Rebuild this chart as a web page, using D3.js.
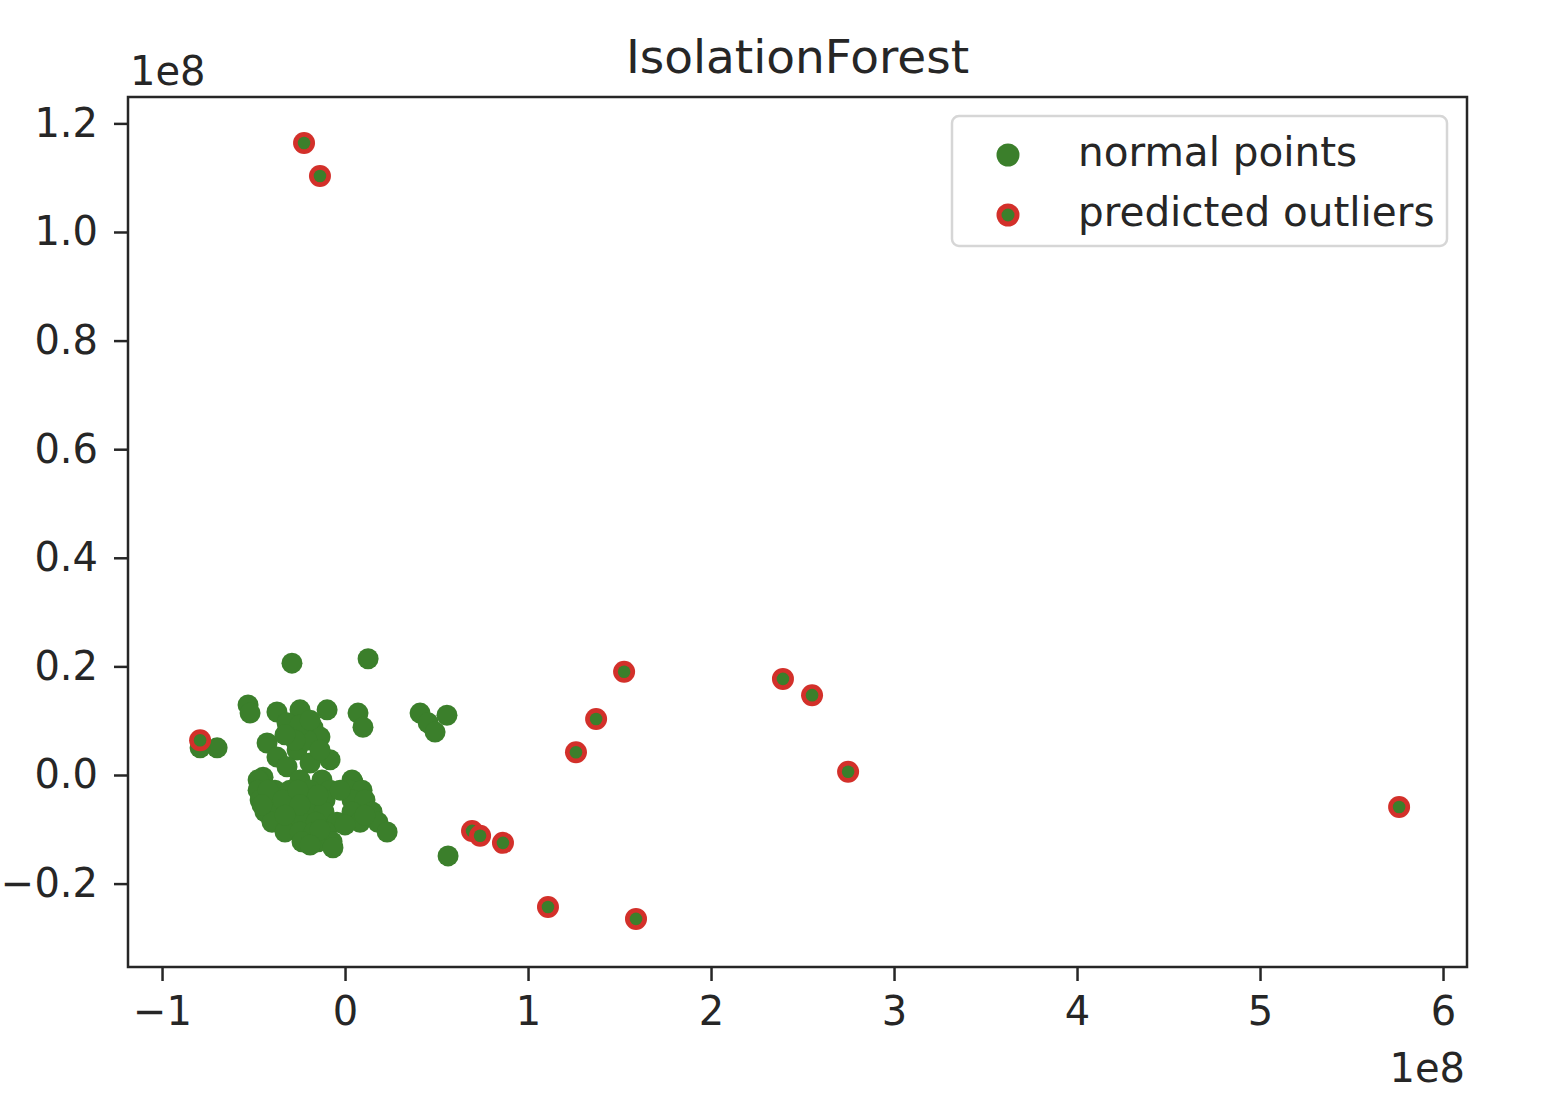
<!DOCTYPE html>
<html lang="en">
<head>
  <meta charset="UTF-8">
  <title>IsolationForest</title>
  <script src="https://d3js.org/d3.v7.min.js"></script>
  <style>
    body {
      margin: 0;
      background: #fff;
      font-family: "DejaVu Sans", sans-serif;
    }
  </style>
</head>
<body>
<script>
const width = 1544;
const height = 1112;

// values in units of 1e8
const normalX = [
  -0.290, 0.126, -0.530, -0.519, -0.372, -0.246, -0.098, 0.071, 0.098, 0.410,
  0.454, 0.492, 0.557, -0.317, -0.175, -0.137, -0.426, -0.372, -0.262, -0.208,
  -0.082, -0.317, -0.191, -0.448, -0.699, -0.792, 0.563, 0.044,
  -0.475, -0.246, -0.126, 0.038,
  -0.475, -0.383, -0.301, -0.191, -0.082, 0.027, 0.093,
  -0.464, -0.383, -0.301, -0.202, -0.109, 0.038, 0.109,
  -0.437, -0.355, -0.273, -0.191, -0.115, 0.038, 0.148,
  -0.399, -0.311, -0.235, -0.158, -0.044, 0.082, 0.180,
  -0.328, -0.246, -0.169, -0.104, 0.230,
  -0.235, -0.148, -0.071, -0.066,
  -0.421, -0.339, -0.257, -0.148, -0.246, -0.328, -0.137, -0.191,
  0.000, 0.109, -0.454, -0.027,
  -0.246, -0.273, -0.137, -0.191, -0.328
];
const normalY = [
  0.206, 0.214, 0.129, 0.114, 0.116, 0.120, 0.120, 0.114, 0.088, 0.114,
  0.096, 0.079, 0.110, 0.096, 0.087, 0.070, 0.059, 0.033, 0.046, 0.064,
  0.028, 0.015, 0.022, -0.004, 0.050, 0.050, -0.149, -0.013,
  -0.009, -0.009, -0.009, -0.009,
  -0.028, -0.028, -0.028, -0.028, -0.028, -0.028, -0.028,
  -0.046, -0.046, -0.046, -0.046, -0.046, -0.046, -0.046,
  -0.068, -0.068, -0.068, -0.068, -0.068, -0.068, -0.068,
  -0.087, -0.087, -0.087, -0.087, -0.087, -0.087, -0.087,
  -0.105, -0.105, -0.105, -0.105, -0.105,
  -0.123, -0.123, -0.123, -0.134,
  -0.028, -0.046, -0.028, -0.037, -0.055, -0.074, -0.101, -0.129,
  -0.092, -0.074, -0.055, -0.028,
  0.092, 0.064, 0.046, 0.101, 0.074
];

const outlierX = [
  -0.224, -0.137, -0.792, 0.694, 0.738, 0.863, 1.109, 1.262,
  1.372, 1.525, 1.590, 2.393, 2.552, 2.749, 5.760
];
const outlierY = [
  1.164, 1.103, 0.064, -0.103, -0.112, -0.125, -0.243, 0.042,
  0.103, 0.190, -0.265, 0.177, 0.147, 0.006, -0.059
];

const xTicks = [-1, 0, 1, 2, 3, 4, 5, 6];
const yTicks = [-0.2, 0.0, 0.2, 0.4, 0.6, 0.8, 1.0, 1.2];
const legendLabels = ["normal points", "predicted outliers"];

const green = "#3b7f2b";
const red = "#d3302a";
const ink = "#262626";

const plotLeft = 128, plotRight = 1467, plotTop = 97, plotBottom = 967;

const svg = d3.select("body").append("svg")
  .attr("width", width)
  .attr("height", height)
  .attr("viewBox", [0, 0, width, height]);

const x = d3.scaleLinear().domain([-1.186, 6.131]).range([plotLeft, plotRight]);
const y = d3.scaleLinear().domain([-0.3536, 1.2486]).range([plotBottom, plotTop]);

const minus = s => s.replace("-", "\u2212");

// points
const normals = normalX.map((d, i) => [d, normalY[i]]);
const outliers = outlierX.map((d, i) => [d, outlierY[i]]);

svg.append("g").selectAll("circle")
  .data(normals)
  .join("circle")
  .attr("cx", d => x(d[0]))
  .attr("cy", d => y(d[1]))
  .attr("r", 10.5)
  .attr("fill", green);

const og = svg.append("g").selectAll("g")
  .data(outliers)
  .join("g")
  .attr("transform", d => `translate(${x(d[0])},${y(d[1])})`);
og.append("circle").attr("r", 11).attr("fill", red);
og.append("circle").attr("r", 6.3).attr("fill", green);

// axes
const xAxis = d3.axisBottom(x)
  .tickValues(xTicks)
  .tickSize(14)
  .tickPadding(16)
  .tickFormat(d => minus(d3.format("d")(d)));
const yAxis = d3.axisLeft(y)
  .tickValues(yTicks)
  .tickSize(14)
  .tickPadding(16)
  .tickFormat(d => minus(d3.format(".1f")(d)));

const gx = svg.append("g")
  .attr("transform", `translate(0,${plotBottom})`)
  .call(xAxis);
const gy = svg.append("g")
  .attr("transform", `translate(${plotLeft},0)`)
  .call(yAxis);

[gx, gy].forEach(g => {
  g.select(".domain").remove();
  g.selectAll(".tick line").attr("stroke", ink).attr("stroke-width", 2.5);
  g.selectAll(".tick text")
    .attr("fill", ink)
    .attr("font-size", 40)
    .attr("font-family", "DejaVu Sans, sans-serif");
});

svg.append("rect")
  .attr("x", plotLeft)
  .attr("y", plotTop)
  .attr("width", plotRight - plotLeft)
  .attr("height", plotBottom - plotTop)
  .attr("fill", "none")
  .attr("stroke", ink)
  .attr("stroke-width", 2.5);

// offset labels
svg.append("text")
  .attr("x", plotLeft + 2)
  .attr("y", 85)
  .attr("font-size", 40)
  .attr("fill", ink)
  .text("1e8");
svg.append("text")
  .attr("x", plotRight - 2)
  .attr("y", 1082)
  .attr("text-anchor", "end")
  .attr("font-size", 40)
  .attr("fill", ink)
  .text("1e8");

// title
svg.append("text")
  .attr("x", (plotLeft + plotRight) / 2)
  .attr("y", 73)
  .attr("text-anchor", "middle")
  .attr("font-size", 47)
  .attr("fill", ink)
  .text("IsolationForest");

// legend
const legend = svg.append("g");
legend.append("rect")
  .attr("x", 952)
  .attr("y", 116)
  .attr("width", 495)
  .attr("height", 130)
  .attr("rx", 7)
  .attr("fill", "#fff")
  .attr("fill-opacity", 0.8)
  .attr("stroke", "#d6d6d6")
  .attr("stroke-width", 2.5);

const items = legend.selectAll("g.item")
  .data(legendLabels)
  .join("g")
  .attr("class", "item")
  .attr("transform", (d, i) => `translate(1008,${155 + i * 60})`);
items.filter((d, i) => i === 0).append("circle").attr("r", 11.5).attr("fill", green);
items.filter((d, i) => i === 1).append("circle").attr("r", 11.5).attr("fill", red);
items.filter((d, i) => i === 1).append("circle").attr("r", 6.5).attr("fill", green);
items.append("text")
  .attr("x", 70)
  .attr("y", 11)
  .attr("font-size", 40.5)
  .attr("fill", ink)
  .text(d => d);
</script>
</body>
</html>
